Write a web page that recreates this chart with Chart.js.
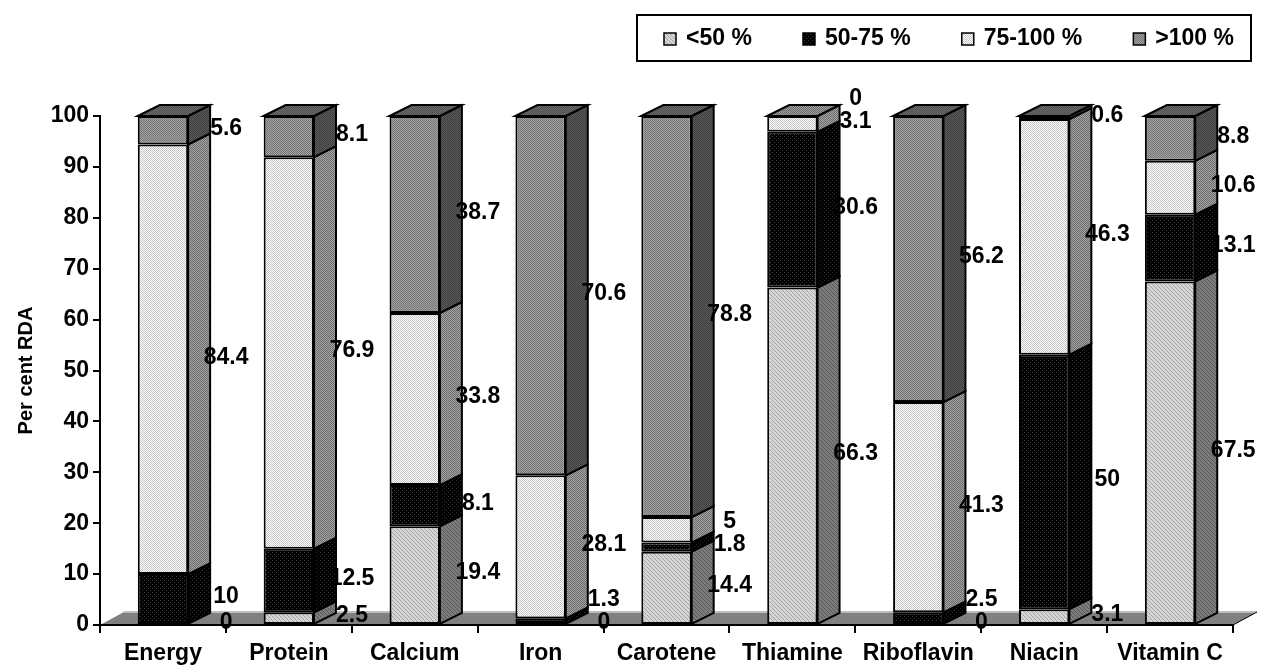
<!DOCTYPE html>
<html>
<head>
<meta charset="utf-8">
<script src="https://cdn.jsdelivr.net/npm/chart.js@4"></script>
<style>
body { margin: 0; background: #fff; }
</style>
</head>
<body>
<canvas id="rda-chart" width="1270" height="667"></canvas>
<script>
var nutrients = ['Energy', 'Protein', 'Calcium', 'Iron', 'Carotene', 'Thiamine', 'Riboflavin', 'Niacin', 'Vitamin C'];
var bandNames = ['<50 %', '50-75 %', '75-100 %', '>100 %'];
var below50 = [0, 2.5, 19.4, 0, 14.4, 66.3, 0, 3.1, 67.5];
var from50to75 = [10, 12.5, 8.1, 1.3, 1.8, 30.6, 2.5, 50, 13.1];
var from75to100 = [84.4, 76.9, 33.8, 28.1, 5, 3.1, 41.3, 46.3, 10.6];
var above100 = [5.6, 8.1, 38.7, 70.6, 78.8, 0, 56.2, 0.6, 8.8];
var yMin = 0, yMax = 100, yStep = 10;

var FONT = '"Liberation Sans", Arial, sans-serif';
var depthX = 22, depthY = -11;

// little tiled fills, a rough copy of the Excel hatches
function makePattern(size, base, dot, cells) {
  var c = document.createElement('canvas');
  c.width = size;
  c.height = size;
  var g = c.getContext('2d');
  g.fillStyle = base;
  g.fillRect(0, 0, size, size);
  g.fillStyle = dot;
  cells.forEach(function(p) { g.fillRect(p[0], p[1], 1, 1); });
  return g.createPattern(c, 'repeat');
}
var diag = [[0, 0], [1, 1], [2, 2], [3, 3]];
var checker = [[0, 0], [1, 1]];
var sparse = [[0, 0], [2, 2]];

var frontFill = [
  makePattern(4, '#d6d6d6', '#a4a4a4', diag),
  makePattern(4, '#000000', '#3c3c3c', sparse),
  makePattern(2, '#ffffff', '#c4c4c4', checker),
  makePattern(2, '#a2a2a2', '#767676', checker)
];
var sideFill = [
  makePattern(4, '#7c7c7c', '#585858', diag),
  makePattern(4, '#000000', '#2c2c2c', sparse),
  makePattern(2, '#a4a4a4', '#6c6c6c', checker),
  makePattern(2, '#5a5a5a', '#3e3e3e', checker)
];
var topFill = [
  makePattern(4, '#a8a8a8', '#808080', diag),
  makePattern(4, '#000000', '#2c2c2c', sparse),
  makePattern(2, '#a0a0a0', '#6a6a6a', checker),
  makePattern(2, '#6a6a6a', '#505050', checker)
];

function poly(ctx, pts, fill) {
  ctx.beginPath();
  ctx.moveTo(pts[0][0], pts[0][1]);
  for (var k = 1; k < pts.length; k++) ctx.lineTo(pts[k][0], pts[k][1]);
  ctx.closePath();
  ctx.fillStyle = fill;
  ctx.fill();
  ctx.stroke();
}

var bars3d = {
  id: 'bars3d',
  beforeDraw: function(chart) {
    var ctx = chart.ctx, a = chart.chartArea;
    var fx = 24, fy = -13;
    ctx.save();
    ctx.beginPath();
    ctx.moveTo(a.left, a.bottom);
    ctx.lineTo(a.left + fx, a.bottom + fy);
    ctx.lineTo(a.right + fx, a.bottom + fy);
    ctx.lineTo(a.right, a.bottom);
    ctx.closePath();
    ctx.fillStyle = '#808080';
    ctx.fill();
    ctx.strokeStyle = '#bdbdbd';
    ctx.lineWidth = 2;
    ctx.beginPath();
    ctx.moveTo(a.left + fx, a.bottom + fy);
    ctx.lineTo(a.right + fx, a.bottom + fy);
    ctx.stroke();
    ctx.strokeStyle = '#000';
    ctx.lineWidth = 1;
    ctx.beginPath();
    ctx.moveTo(a.right, a.bottom);
    ctx.lineTo(a.right + fx, a.bottom + fy);
    ctx.stroke();
    ctx.restore();
  },
  afterDatasetsDraw: function(chart) {
    var ctx = chart.ctx;
    var sets = chart.data.datasets;
    ctx.save();
    ctx.strokeStyle = '#000';
    ctx.lineWidth = 2;
    ctx.lineJoin = 'miter';

    // side faces
    sets.forEach(function(ds, d) {
      chart.getDatasetMeta(d).data.forEach(function(el, i) {
        if (!ds.data[i]) return;
        var p = el.getProps(['x', 'y', 'base', 'width'], true);
        var right = p.x + p.width / 2;
        var top = Math.min(p.y, p.base), bottom = Math.max(p.y, p.base);
        poly(ctx, [[right, bottom], [right, top], [right + depthX, top + depthY], [right + depthX, bottom + depthY]], sideFill[d]);
      });
    });

    // top face of each stack
    nutrients.forEach(function(n, i) {
      for (var d = sets.length - 1; d >= 0; d--) {
        if (sets[d].data[i] > 0) {
          var p = chart.getDatasetMeta(d).data[i].getProps(['x', 'y', 'width'], true);
          var left = p.x - p.width / 2, right = p.x + p.width / 2;
          poly(ctx, [[left, p.y], [left + depthX, p.y + depthY], [right + depthX, p.y + depthY], [right, p.y]], topFill[d]);
          break;
        }
      }
    });

    // value labels to the right of each segment
    ctx.fillStyle = '#000';
    ctx.font = 'bold 23px ' + FONT;
    ctx.textAlign = 'center';
    ctx.textBaseline = 'middle';
    nutrients.forEach(function(n, i) {
      var prev = Infinity;
      sets.forEach(function(ds, d) {
        var p = chart.getDatasetMeta(d).data[i].getProps(['x', 'y', 'base', 'width'], true);
        var ly = (p.y + p.base) / 2 - 2;
        if (ly > prev - 23) ly = prev - 23;
        prev = ly;
        ctx.fillText(String(ds.data[i]), p.x + p.width / 2 + depthX + 16, ly);
      });
    });
    ctx.restore();
  },
  afterDraw: function(chart) {
    // boxed legend along the top right
    var ctx = chart.ctx;
    var bx = 637, by = 15, bw = 614, bh = 46;
    ctx.save();
    ctx.strokeStyle = '#000';
    ctx.lineWidth = 2;
    ctx.strokeRect(bx, by, bw, bh);
    ctx.font = 'bold 23px ' + FONT;
    ctx.textBaseline = 'middle';
    ctx.textAlign = 'left';
    var sw = 12, gapText = 10;
    var widths = bandNames.map(function(t) { return sw + gapText + ctx.measureText(t).width; });
    var startX = 664, endX = 1234;
    var total = widths.reduce(function(s, w) { return s + w; }, 0);
    var gap = (endX - startX - total) / (bandNames.length - 1);
    var x = startX, cy = by + bh / 2 + 1;
    bandNames.forEach(function(t, d) {
      ctx.fillStyle = frontFill[d];
      ctx.fillRect(x, cy - 6, sw, 12);
      ctx.lineWidth = 1.5;
      ctx.strokeRect(x, cy - 6, sw, 12);
      ctx.fillStyle = '#000';
      ctx.fillText(t, x + sw + gapText, cy);
      x += widths[d] + gap;
    });
    ctx.restore();
  }
};

var seriesValues = [below50, from50to75, from75to100, above100];
var ctx = document.getElementById('rda-chart').getContext('2d');
var rdaChart = new Chart(ctx, {
  type: 'bar',
  data: {
    labels: nutrients,
    datasets: seriesValues.map(function(vals, d) {
      return {
        label: bandNames[d],
        data: vals,
        backgroundColor: frontFill[d],
        borderColor: '#000',
        borderWidth: 2,
        borderSkipped: false,
        barPercentage: 0.4,
        categoryPercentage: 1
      };
    })
  },
  options: {
    responsive: false,
    animation: false,
    layout: { padding: { top: 116, right: 37, bottom: 0, left: 0 } },
    plugins: {
      legend: { display: false },
      tooltip: { enabled: false }
    },
    scales: {
      x: {
        stacked: true,
        grid: { offset: true, drawOnChartArea: false, drawTicks: true, tickLength: 8, color: '#000', lineWidth: 2 },
        border: { display: true, color: '#000', width: 2 },
        ticks: { color: '#000', font: { family: FONT, size: 23, weight: 'bold' }, padding: 7, maxRotation: 0, autoSkip: false },
        afterFit: function(scale) { scale.height = 42; }
      },
      y: {
        stacked: true,
        min: yMin,
        max: yMax,
        grid: { drawOnChartArea: false, drawTicks: true, tickLength: 7, color: '#000', lineWidth: 2 },
        border: { display: true, color: '#000', width: 2 },
        ticks: { stepSize: yStep, color: '#000', font: { family: FONT, size: 23, weight: 'bold' }, padding: 4 },
        title: { display: true, text: 'Per cent RDA', color: '#000', font: { family: FONT, size: 20, weight: 'bold' }, padding: { top: 14, bottom: 0 } },
        afterFit: function(scale) { scale.width = 100; }
      }
    }
  },
  plugins: [bars3d]
});
</script>
</body>
</html>
